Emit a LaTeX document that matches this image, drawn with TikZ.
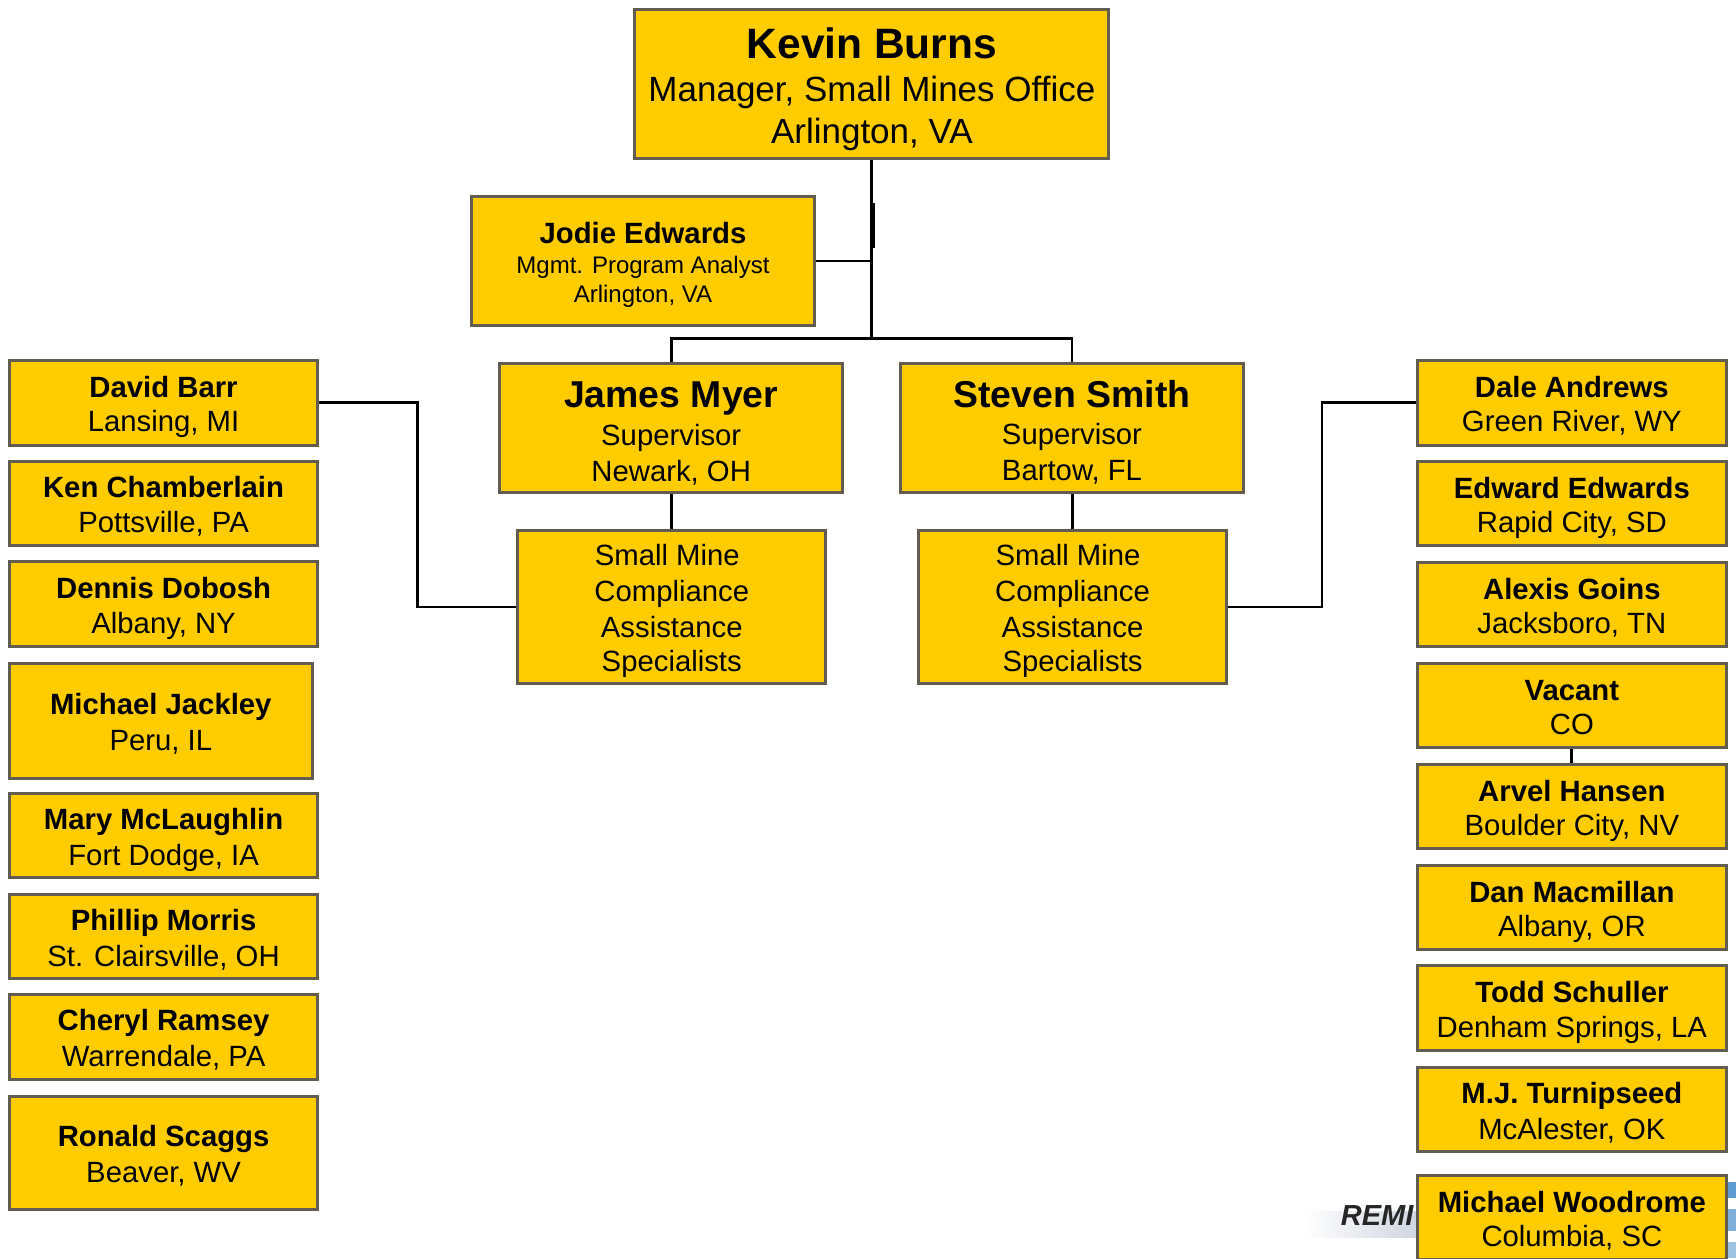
\documentclass[tikz,border=0pt]{standalone}
\usepackage{fontspec}
\setmainfont{Liberation Sans}
\definecolor{boxfill}{HTML}{FFCC00}
\definecolor{boxedge}{HTML}{635C50}
\definecolor{bandc}{HTML}{CFD5E0}
\definecolor{logoblue}{HTML}{5E9BD0}
\newcommand{\tightlines}{\lineskip=0pt \lineskiplimit=0pt\relax}
\tikzset{
  x=1.1071pt,y=-1.1071pt,
  orgbox/.style={draw=boxedge,fill=boxfill,line width=3pt,rectangle,inner sep=0pt,align=center,text=black,
    font=\fontsize{10}{1}\selectfont\tightlines},
  link/.style={draw=black,line width=2.8pt},
  thinlink/.style={draw=black,line width=2.6pt}
}
% one text line: size, strut height, strut depth, text
\newcommand{\tline}[4]{\hbox{\fontsize{#1}{#1}\selectfont\vrule width 0pt height #2pt depth #3pt\relax #4}}
\newcommand{\orgnode}[6]{%
  \pgfmathsetmacro{\cxv}{(#2+#4)/2}%
  \pgfmathsetmacro{\cyv}{(#3+#5)/2}%
  \pgfmathsetmacro{\wv}{(#4-#2)*1.1071}%
  \pgfmathsetmacro{\hv}{(#5-#3)*1.1071}%
  \node[orgbox,minimum width=\wv pt,minimum height=\hv pt] (#1) at (\cxv,\cyv) {#6};}
\newcommand{\persA}[7]{\orgnode{#1}{#2}{#3}{#4}{#5}{\tline{29.3}{29.5}{4.5}{\textbf{#6}}\\\tline{29.3}{30}{6}{#7}}}
\newcommand{\smallmine}{\tline{29.3}{30}{6}{Small Mine\hspace*{9pt}}\\\tline{29.3}{30}{4}{Compliance}\\\tline{29.3}{30}{3.2}{Assistance}\\\tline{29.3}{30}{7}{Specialists}}
\begin{document}
\begin{tikzpicture}
\useasboundingbox (0,0) rectangle (1568,1136.3);
% logo fragment behind the last box
\begin{scope}
\clip (0,0) rectangle (1568,1136.3);
\shade[left color=white,right color=bandc] (1178,1094) rectangle (1282,1118);
\node[anchor=base west,inner sep=0pt,text=black!85,font=\fontsize{29}{29}\selectfont\bfseries\itshape] (logotext) at (1211,1107) {REMI};
\fill[logoblue] (1559,1068) rectangle (1568,1082);
\fill[logoblue!80] (1559,1092) rectangle (1568,1112);
\fill[logoblue!60] (1559,1122) rectangle (1568,1136.3);
\end{scope}
% top
\orgnode{kevin}{573.5}{8.5}{1001.5}{143}{\tline{42.5}{41.3}{8}{\textbf{Kevin Burns}}\\\tline{35}{34.5}{7.5}{Manager, Small Mines Office}\\\tline{35}{34.5}{3.5}{Arlington, VA}}
\orgnode{jodie}{425.5}{177.5}{736}{294}{\tline{29.3}{29.3}{6}{\textbf{Jodie Edwards}}\\\tline{24}{24.4}{5}{Mgmt. Program Analyst}\\\tline{24}{23.8}{2.2}{Arlington, VA}}
\orgnode{james}{451.5}{328.5}{761}{445}{\tline{37.4}{42}{7}{\textbf{James Myer}}\\\tline{29.3}{30}{1}{Supervisor}\\\tline{29.3}{30}{9.6}{Newark, OH}}
\orgnode{steven}{813.5}{328.5}{1123}{445}{\tline{37.4}{42}{7}{\textbf{Steven Smith}}\\\tline{29.3}{30}{1}{Supervisor}\\\tline{29.3}{30}{9.6}{Bartow, FL}}
\orgnode{smcaL}{467.5}{479.5}{746}{617}{\smallmine}
\orgnode{smcaR}{829.5}{479.5}{1108}{617}{\smallmine}
% left column
\persA{david}{8.5}{325.5}{287}{402}{David Barr}{Lansing, MI}
\persA{ken}{8.5}{416.5}{287}{493}{Ken Chamberlain}{Pottsville, PA}
\persA{dennis}{8.5}{507.5}{287}{584}{Dennis Dobosh}{Albany, NY}
\persA{jackley}{8.5}{599.5}{282}{703}{Michael Jackley}{Peru, IL}
\persA{mary}{8.5}{716.5}{287}{793}{Mary McLaughlin}{Fort Dodge, IA}
\persA{phillip}{8.5}{807.5}{287}{884}{Phillip Morris}{St. Clairsville, OH}
\persA{cheryl}{8.5}{898.5}{287}{975}{Cheryl Ramsey}{Warrendale, PA}
\persA{ronald}{8.5}{990}{287}{1092}{Ronald Scaggs}{Beaver, WV}
% right column
\persA{dale}{1280}{325.5}{1559.5}{402}{Dale Andrews}{Green River, WY}
\persA{edward}{1280}{417}{1559.5}{493}{Edward Edwards}{Rapid City, SD}
\persA{alexis}{1280}{508}{1559.5}{584}{Alexis Goins}{Jacksboro, TN}
\persA{vacant}{1280}{599.5}{1559.5}{675.5}{Vacant}{CO}
\persA{arvel}{1280}{690.5}{1559.5}{766.5}{Arvel Hansen}{Boulder City, NV}
\persA{dan}{1280}{781.5}{1559.5}{858}{Dan Macmillan}{Albany, OR}
\persA{todd}{1280}{872.5}{1559.5}{949}{Todd Schuller}{Denham Springs, LA}
\persA{turnip}{1280}{964}{1559.5}{1040}{M.J. Turnipseed}{McAlester, OK}
\begin{scope}
\clip (1270,1050) rectangle (1568,1136.3);
\persA{woodrome}{1280}{1062}{1559.5}{1138}{Michael Woodrome}{Columbia, SC}
\end{scope}
% connectors
\coordinate (hub) at (kevin.south |- 0,306);
\coordinate (jodiejoin) at (kevin.south |- jodie.east);
\draw[link] (kevin.south) -- (hub);
\draw[link] (jodie.east) -- (jodiejoin);
\draw[link] (james.north) -- (james.north |- hub) -- (steven.north |- hub) -- (steven.north);
\draw[link] (smcaL.north) -- (smcaL.north |- james.south);
\draw[link] (smcaR.north) -- (smcaR.north |- steven.south);
\coordinate (leftelbow) at (377,0);
\coordinate (rightelbow) at (1194,0);
\draw[thinlink] (david.east) -- (leftelbow |- david.east) -- (leftelbow |- smcaL.west) -- (smcaL.west);
\draw[thinlink] (dale.west) -- (rightelbow |- dale.west) -- (rightelbow |- smcaR.east) -- (smcaR.east);
\draw[link] (vacant.south) -- (arvel.north);
% slight doubling of the main trunk
\coordinate (trunkA) at (789,183);
\coordinate (trunkB) at (789,224);
\draw[line width=2pt,draw=black] (trunkA) -- (trunkB);
\end{tikzpicture}
\end{document}
